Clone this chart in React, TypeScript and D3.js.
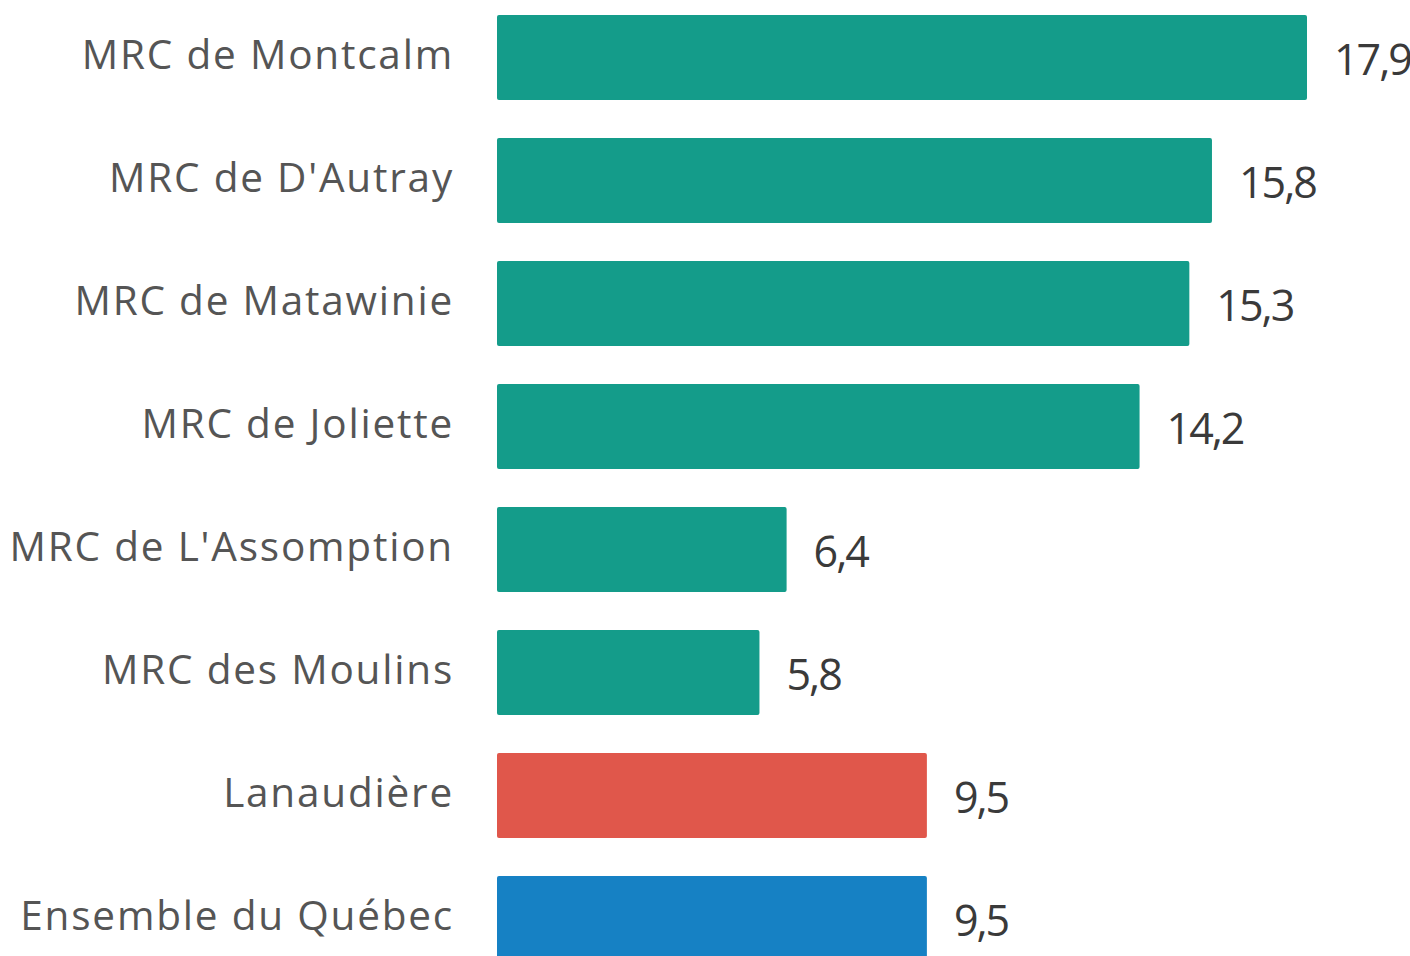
import { useEffect, useRef } from 'react';
import * as d3 from 'd3';

// Régions et valeurs (%)
const regions = [
  'MRC de Montcalm',
  "MRC de D'Autray",
  'MRC de Matawinie',
  'MRC de Joliette',
  "MRC de L'Assomption",
  'MRC des Moulins',
  'Lanaudière',
  'Ensemble du Québec',
];
const values = [17.9, 15.8, 15.3, 14.2, 6.4, 5.8, 9.5, 9.5];
const colors = ['#149c8a', '#149c8a', '#149c8a', '#149c8a', '#149c8a', '#149c8a', '#e0574b', '#1681c4'];

const WIDTH = 1410;
const HEIGHT = 956;

export default function App() {
  const svgRef = useRef<SVGSVGElement>(null);

  useEffect(() => {
    if (!svgRef.current) return;
    const data = regions.map((r, i) => ({ region: r, value: values[i], color: colors[i] }));

    d3.select(svgRef.current).selectAll('*').remove();
    const svg = d3.select(svgRef.current);

    const x0 = 497;
    const xScale = d3.scaleLinear().domain([0, 17.9]).range([x0, 1307]);
    const yScale = d3
      .scaleBand<string>()
      .domain(regions)
      .range([-4, 980])
      .paddingInner(0.309)
      .paddingOuter(0.1545);

    const fmt = (v: number) => d3.format('.1f')(v).replace('.', ',');

    // barres
    svg
      .selectAll('rect.bar')
      .data(data)
      .join('rect')
      .attr('class', 'bar')
      .attr('x', xScale(0))
      .attr('y', (d) => yScale(d.region)!)
      .attr('width', (d) => xScale(d.value) - xScale(0))
      .attr('height', yScale.bandwidth())
      .attr('rx', 2)
      .attr('fill', (d) => d.color);

    // étiquettes des catégories
    svg
      .selectAll('text.label')
      .data(data)
      .join('text')
      .attr('class', 'label')
      .attr('x', 454)
      .attr('y', (d) => yScale(d.region)! + yScale.bandwidth() / 2 + 11.5)
      .attr('text-anchor', 'end')
      .attr('font-family', '"Open Sans", sans-serif')
      .attr('font-size', 40.5)
      .attr('letter-spacing', 1.8)
      .attr('fill', '#555555')
      .text((d) => d.region);

    // valeurs
    svg
      .selectAll('text.value')
      .data(data)
      .join('text')
      .attr('class', 'value')
      .attr('x', (d) => xScale(d.value) + 27)
      .attr('y', (d) => yScale(d.region)! + yScale.bandwidth() / 2 + 17)
      .attr('font-family', '"Open Sans", sans-serif')
      .attr('font-size', 43)
      .attr('letter-spacing', -2)
      .attr('fill', '#3a3a3a')
      .text((d) => fmt(d.value));
  }, []);

  return (
    <svg
      ref={svgRef}
      width={WIDTH}
      height={HEIGHT}
      style={{ position: 'absolute', left: 0, top: 0, background: '#fff' }}
    />
  );
}
